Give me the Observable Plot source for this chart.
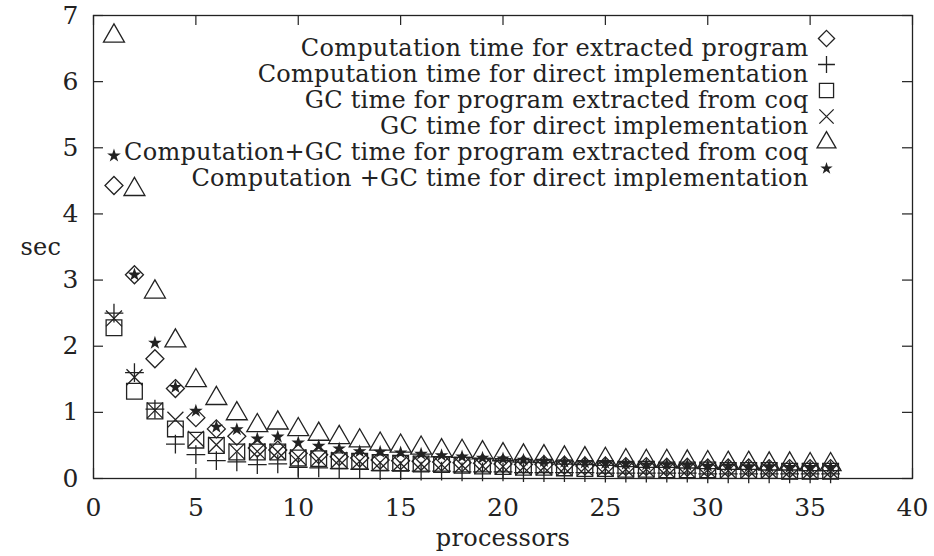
<!DOCTYPE html>
<html><head><meta charset="utf-8">
<script src="https://cdn.jsdelivr.net/npm/d3@7"></script>
<script src="https://cdn.jsdelivr.net/npm/@observablehq/plot@0.6"></script>
<style>body{margin:0;background:#fff} #chart g[aria-label="text"] text{letter-spacing:0.25px}</style>
</head><body><div id="chart"></div>
<script>
const processors = [1,2,3,4,5,6,7,8,9,10,11,12,13,14,15,16,17,18,19,20,21,22,23,24,25,26,27,28,29,30,31,32,33,34,35,36];
const compExtracted = [4.43,3.08,1.81,1.36,0.92,0.75,0.64,0.46,0.43,0.38,0.36,0.33,0.31,0.28,0.27,0.26,0.25,0.24,0.23,0.22,0.21,0.21,0.20,0.19,0.19,0.18,0.18,0.17,0.17,0.16,0.16,0.16,0.15,0.15,0.15,0.15];
const compDirect = [2.50,1.60,1.05,0.52,0.36,0.27,0.25,0.21,0.22,0.17,0.16,0.15,0.14,0.12,0.12,0.11,0.11,0.10,0.10,0.10,0.09,0.09,0.09,0.09,0.08,0.08,0.08,0.08,0.08,0.07,0.07,0.07,0.07,0.07,0.07,0.07];
const gcExtracted = [2.28,1.32,1.02,0.75,0.58,0.50,0.40,0.40,0.40,0.31,0.30,0.27,0.26,0.24,0.23,0.22,0.21,0.20,0.19,0.18,0.17,0.17,0.16,0.15,0.15,0.14,0.14,0.13,0.13,0.13,0.12,0.12,0.12,0.11,0.11,0.11];
const gcDirect = [2.42,1.53,1.03,0.89,0.60,0.51,0.41,0.41,0.40,0.32,0.30,0.28,0.26,0.24,0.23,0.22,0.21,0.20,0.19,0.18,0.17,0.17,0.16,0.16,0.15,0.14,0.14,0.13,0.13,0.13,0.12,0.12,0.12,0.11,0.11,0.11];
const totalExtracted = [6.69,4.37,2.82,2.08,1.48,1.21,0.98,0.80,0.84,0.74,0.67,0.62,0.57,0.52,0.49,0.46,0.42,0.41,0.39,0.36,0.34,0.33,0.31,0.30,0.29,0.27,0.26,0.26,0.25,0.24,0.23,0.23,0.22,0.22,0.21,0.21];
const totalDirect = [4.88,3.08,2.05,1.38,1.02,0.78,0.74,0.60,0.63,0.54,0.49,0.45,0.41,0.40,0.39,0.37,0.35,0.33,0.31,0.30,0.28,0.26,0.25,0.24,0.23,0.22,0.21,0.21,0.20,0.19,0.19,0.18,0.18,0.17,0.17,0.17];
const seriesNames = [
  "Computation time for extracted program",
  "Computation time for direct implementation",
  "GC time for program extracted from coq",
  "GC time for direct implementation",
  "Computation+GC time for program extracted from coq",
  "Computation +GC time for direct implementation"
];
const xTicks = [0,5,10,15,20,25,30,35,40];
const yTicks = [0,1,2,3,4,5,6,7];

const W = 934, H = 556, mL = 93, mR = 22, mT = 15, mB = 78;
const innerW = W - mL - mR, innerH = H - mT - mB;
const ink = "#222";
const fontSize = 24;

const styles = [
  {values: compExtracted, symbol: "diamond2", r: 8.1, fill: "none", stroke: ink},
  {values: compDirect, symbol: "plus", r: 6.1, fill: "none", stroke: ink},
  {values: gcExtracted, symbol: "square2", r: 10, fill: "none", stroke: ink},
  {values: gcDirect, symbol: "times", r: 7.3, fill: "none", stroke: ink},
  {values: totalExtracted, symbol: "triangle2", r: 10, fill: "none", stroke: ink},
  {values: totalDirect, symbol: "star", r: 4.3, fill: ink, stroke: "none"}
];

const marks = [];
marks.push(Plot.frame({stroke: ink, strokeWidth: 1.3}));
marks.push(Plot.tickX(xTicks, {x: d => d, insetTop: innerH - 10, stroke: ink, strokeWidth: 1.2}));
marks.push(Plot.tickX(xTicks, {x: d => d, insetBottom: innerH - 10, stroke: ink, strokeWidth: 1.2}));
marks.push(Plot.tickY(yTicks, {y: d => d, insetRight: innerW - 10, stroke: ink, strokeWidth: 1.2}));
marks.push(Plot.tickY(yTicks, {y: d => d, insetLeft: innerW - 10, stroke: ink, strokeWidth: 1.2}));
marks.push(Plot.axisX({ticks: xTicks, tickSize: 0, tickPadding: 20, label: null, tickFormat: d => String(d), fontSize: 25}));
marks.push(Plot.axisY({ticks: yTicks, tickSize: 0, tickPadding: 15, label: null, tickFormat: d => String(d), fontSize: 25}));
marks.push(Plot.text(["processors"], {text: d => d, frameAnchor: "bottom", dy: 67, fontSize, fill: ink}));
marks.push(Plot.text(["sec"], {text: d => d, frameAnchor: "left", dx: -73, fontSize, fill: ink}));

styles.forEach((s, k) => {
  const rows = processors.map((p, i) => ({x: p, y: s.values[i]}));
  marks.push(Plot.dot(rows, {x: "x", y: "y", symbol: s.symbol, r: s.r, fill: s.fill, stroke: s.stroke, strokeWidth: 1.3}));
});

seriesNames.forEach((name, k) => {
  const s = styles[k];
  marks.push(Plot.text([name], {text: d => d, frameAnchor: "top-right", textAnchor: "end", dx: -104, dy: 23 + 26 * k, fontSize, fill: ink}));
  marks.push(Plot.dot([name], {frameAnchor: "top-right", dx: -86, dy: 23 + 26 * k, symbol: s.symbol, r: s.r * 0.9, fill: s.fill, stroke: s.stroke, strokeWidth: 1.3}));
});

const chart = Plot.plot({
  width: W, height: H,
  marginLeft: mL, marginRight: mR, marginTop: mT, marginBottom: mB,
  x: {domain: [0, 40]},
  y: {domain: [0, 7]},
  style: {fontFamily: "'DejaVu Serif', serif", fontSize: fontSize + "px", background: "#fff", color: ink},
  marks
});
document.getElementById("chart").appendChild(chart);
</script>
</body></html>
